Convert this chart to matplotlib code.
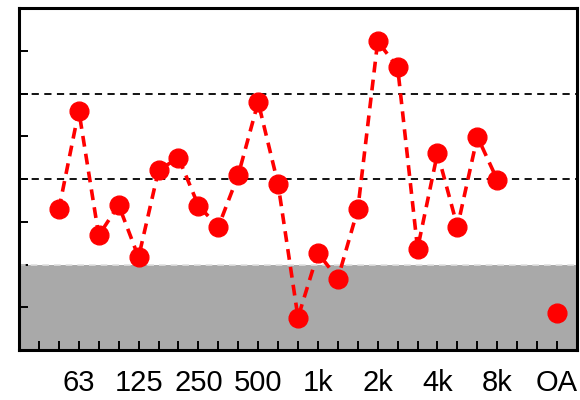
import matplotlib
matplotlib.use('Agg')
from matplotlib import pyplot as plt
import numpy as np

plt.rcParams['font.family'] = ['Liberation Sans', 'DejaVu Sans']

# 1/3 octave band levels, 50 Hz .. 8 kHz, then overall
bands = [50, 63, 80, 100, 125, 160, 200, 250, 315, 400, 500, 630,
         800, 1000, 1250, 1600, 2000, 2500, 3150, 4000, 5000, 6300, 8000]
levels = [3.29, 5.60, 2.68, 3.39, 2.17, 4.20, 4.50, 3.38, 2.88, 4.09, 5.80, 3.88,
          0.76, 2.27, 1.67, 3.29, 7.22, 6.61, 2.37, 4.61, 2.88, 4.99, 3.98]
overall = 0.86

tick_labels = ['63', '125', '250', '500', '1k', '2k', '4k', '8k', 'OA']
limit_low = 2
ref_lines = [4, 6]

x = np.arange(2, 2 + len(bands))
x_oa = 27

fig = plt.figure(figsize=(5.8, 4), dpi=100)
ax = fig.add_axes([19/580, 50/400, 558/580, 342/400])

ax.set_xlim(0, 28)
ax.set_ylim(0, 8)

# shaded zone below the lower limit
ax.axhspan(0, limit_low, color='#a9a9a9', zorder=1, lw=0)
ax.axhline(limit_low, color='#e0e0e0', ls=(0, (4, 3)), lw=1.2, zorder=2)
for r in ref_lines:
    ax.axhline(r, color='black', ls=(0, (4, 3)), lw=1.3, zorder=2)

ax.plot(x, levels, color='red', ls=(0, (3, 2)), lw=2.6, marker='o',
        markersize=13.5, zorder=3)
ax.plot([x_oa], [overall], color='red', marker='o', markersize=13.5, ls='none', zorder=3)

ticks = list(range(1, 28))
ax.set_xticks(ticks)
ax.set_xticklabels([tick_labels[(t - 3) // 3] if t % 3 == 0 else '' for t in ticks])
ax.set_yticks(range(1, 8))
ax.set_yticklabels([])
ax.tick_params(axis='both', direction='in', length=6.5, width=1.4, labelsize=21)
ax.tick_params(axis='x', pad=14)
ax.tick_params(axis='y', left=True)

for s in ax.spines.values():
    s.set_linewidth(2.2)

plt.savefig('out.png', dpi=100)
